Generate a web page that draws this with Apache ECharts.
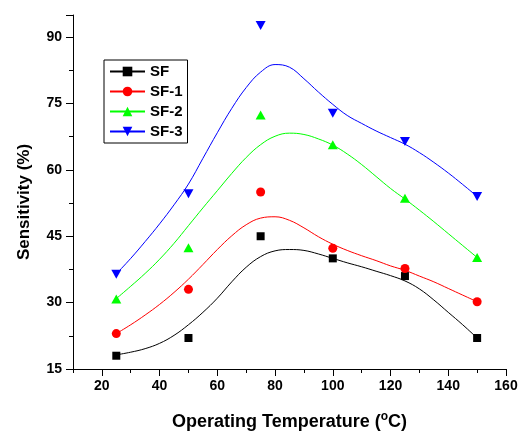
<!DOCTYPE html>
<html>
<head>
<meta charset="utf-8">
<script src="https://cdn.jsdelivr.net/npm/echarts@6/dist/echarts.min.js"></script>
<style>
  body { margin: 0; background: #fff; }
  #main { width: 518px; height: 432px; }
</style>
</head>
<body>
<div id="main"></div>
<script type="text/javascript">
    // measured points
    var tempX = [25, 50, 75, 100, 125, 150];
    var sf  = [18, 22, 45, 40, 36, 22];
    var sf1 = [23, 33, 55, 42.3, 37.7, 30.2];
    var sf2 = [30.8, 42.4, 72.4, 65.7, 53.6, 40.2];
    var sf3 = [36.4, 54.6, 92.6, 72.8, 66.4, 54];

    // fitted curves
    var fitX = [25, 30, 35, 40, 45, 50, 55, 60, 65, 70, 75, 80, 85, 90, 95, 100, 105, 110, 115, 120, 125, 130, 135, 140, 145, 150];
    var fitSF  = [18.2, 18.8, 19.6, 20.8, 22.6, 25, 27.8, 31, 34.7, 38, 40.4, 41.7, 42, 41.8, 41, 40, 39, 38.1, 37.1, 36.1, 34.9, 33.1, 30.6, 27.8, 25, 22];
    var fitSF1 = [23, 25, 27.2, 29.6, 32.3, 35.3, 38.6, 42, 45.1, 47.6, 49.1, 49.4, 48.6, 46.9, 44.9, 43.2, 41.8, 40.6, 39.5, 38.3, 37.3, 36, 34.7, 33.2, 31.7, 30.2];
    var fitSF2 = [30.9, 33.7, 36.6, 39.8, 43.4, 47.4, 51.4, 55.3, 59.2, 62.8, 65.7, 67.6, 68.3, 68, 67, 65.6, 63.6, 61.2, 58.5, 55.8, 53.4, 50.9, 48.3, 45.6, 42.9, 40.2];
    var fitSF3 = [36.5, 40, 43.8, 47.8, 52.1, 56.8, 62.6, 68.4, 73.9, 78.6, 82.1, 83.8, 83.2, 80.6, 77.6, 74.8, 72.3, 70.5, 68.8, 67.3, 65.8, 63.9, 61.7, 59.3, 56.7, 54];

    var xLabels = [20, 40, 60, 80, 100, 120, 140, 160];
    var yLabels = [15, 30, 45, 60, 75, 90];

    var names   = ['SF', 'SF-1', 'SF-2', 'SF-3'];
    var colors  = ['#000000', '#ff0000', '#00ff00', '#0000ff'];
    var symbols = ['rect', 'circle', 'triangle', 'triangle'];
    var sizes   = [8, 9, [10, 9], [10, 9]];
    var rotates = [0, 0, 0, 180];
    var points  = [sf, sf1, sf2, sf3];
    var fits    = [fitSF, fitSF1, fitSF2, fitSF3];

    var font = 'Arial, "Liberation Sans", sans-serif';

    function pairs(xs, ys) {
        var out = [];
        for (var i = 0; i < xs.length; i++) out.push([xs[i], ys[i]]);
        return out;
    }

    var series = [];
    // curves first so the legend takes their icon
    for (var v = 0; v < names.length; v++) {
        series.push({
            name: names[v],
            type: 'line',
            smooth: 0.4,
            showSymbol: false,
            symbol: symbols[v],
            symbolRotate: rotates[v],
            symbolSize: sizes[v],
            lineStyle: { color: colors[v], width: 1 },
            itemStyle: { color: colors[v] },
            data: pairs(fitX, fits[v]),
            z: 2
        });
    }
    for (var v = 0; v < names.length; v++) {
        series.push({
            name: names[v],
            type: 'scatter',
            symbol: symbols[v],
            symbolRotate: rotates[v],
            symbolSize: sizes[v],
            itemStyle: { color: colors[v], opacity: 1 },
            data: pairs(tempX, points[v]),
            z: 3
        });
    }

    var myChart = echarts.init(document.getElementById('main'));
    var option = {
        animation: false,
        backgroundColor: '#ffffff',
        grid: { left: 73, right: 12, top: 15, bottom: 63, outerBoundsMode: 'none' },
        legend: {
            orient: 'vertical', left: 104, top: 60,
            data: names,
            itemWidth: 35, itemHeight: 12, itemGap: 5,
            padding: [4, 5, 4, 5],
            borderColor: '#000', borderWidth: 1,
            textStyle: { fontFamily: font, fontSize: 15, fontWeight: 'bold', color: '#000', lineHeight: 15 }
        },
        xAxis: [
            {
                type: 'value', min: 10, max: 160, interval: 10,
                name: 'Operating Temperature ({sup|o}C)',
                nameLocation: 'middle', nameGap: 42,
                nameTextStyle: {
                    fontFamily: font, fontSize: 18, fontWeight: 'bold', color: '#000',
                    rich: { sup: { fontFamily: font, fontSize: 12, fontWeight: 'bold', color: '#000', padding: [0, 0, 10, 0] } }
                },
                axisLine: { show: true, lineStyle: { color: '#000', width: 1 } },
                axisTick: { show: true, length: 4, lineStyle: { color: '#000' } },
                axisLabel: { show: false },
                splitLine: { show: false }
            },
            {
                type: 'value', min: 10, max: 160, interval: 10,
                position: 'bottom',
                axisLine: { show: false },
                axisTick: { show: true, length: 7, customValues: xLabels, lineStyle: { color: '#000' } },
                axisLabel: {
                    customValues: xLabels, margin: 10,
                    fontFamily: font, fontSize: 14, fontWeight: 'bold', color: '#000'
                },
                splitLine: { show: false }
            }
        ],
        yAxis: {
            type: 'value', min: 15, max: 95, interval: 15,
            name: 'Sensitivity (%)',
            nameLocation: 'middle', nameGap: 40,
            nameTextStyle: { fontFamily: font, fontSize: 17, fontWeight: 'bold', color: '#000', padding: [0, 20, 0, 0] },
            axisLine: { show: true, lineStyle: { color: '#000', width: 1 } },
            axisTick: { show: true, length: 7, lineStyle: { color: '#000' } },
            minorTick: { show: true, splitNumber: 2, length: 4, lineStyle: { color: '#000' } },
            axisLabel: {
                customValues: yLabels, margin: 11,
                fontFamily: font, fontSize: 14, fontWeight: 'bold', color: '#000'
            },
            splitLine: { show: false }
        },
        series: series
    };
    myChart.setOption(option);
</script>
</body>
</html>
